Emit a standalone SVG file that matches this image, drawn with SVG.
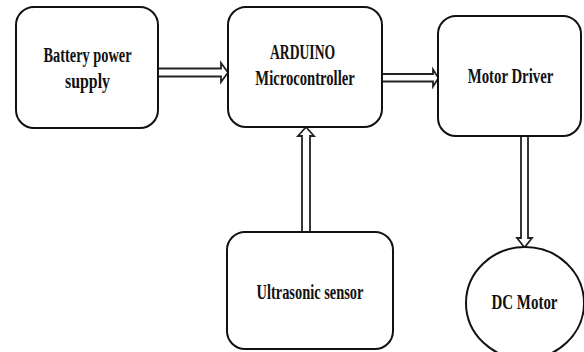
<svg xmlns="http://www.w3.org/2000/svg" width="584" height="352" viewBox="0 0 584 352">
<style>
.box{fill:#fff;stroke:#111;stroke-width:2}
.arr{fill:#fff;stroke:#222;stroke-width:1.8;stroke-linejoin:miter}
.t{font-family:"Liberation Serif","Times New Roman",serif;font-weight:bold;font-size:22px;fill:#111;text-anchor:middle}
</style>
<rect width="584" height="352" fill="#fff"/>
<g id="connectors">
<path class="arr" d="M158,68.5 H221 V63 L228,72.5 L221,82 V76.5 H158"/>
<path class="arr" d="M382,74 H433 V69.5 L438.5,78 L433,86.5 V81.5 H382"/>
<path class="arr" d="M302,232 V136 H298 L306,127 L314,136 H310 V232"/>
<path class="arr" d="M521,136 V238 H517 L524.5,247.5 L532,238 H528 V136"/>
</g>
<g id="battery">
<rect class="box" x="16" y="7" width="142" height="121" rx="18"/>
<text class="t" transform="translate(87.5,61.5) scale(0.652,1)">Battery power</text>
<text class="t" transform="translate(87.5,88) scale(0.72,1)">supply</text>
</g>
<g id="arduino">
<rect class="box" x="228" y="7" width="154" height="120" rx="18"/>
<text class="t" transform="translate(302.5,59) scale(0.62,1)">ARDUINO</text>
<text class="t" transform="translate(305,85) scale(0.665,1)">Microcontroller</text>
</g>
<g id="motordriver">
<rect class="box" x="438" y="16" width="143" height="120" rx="18"/>
<text class="t" transform="translate(510.5,83) scale(0.673,1)">Motor Driver</text>
</g>
<g id="ultrasonic">
<rect class="box" x="227" y="232" width="166" height="117" rx="18"/>
<text class="t" transform="translate(310,299) scale(0.656,1)">Ultrasonic sensor</text>
</g>
<g id="dcmotor">
<ellipse class="box" cx="525" cy="303" rx="59" ry="56"/>
<text class="t" transform="translate(524.5,308.5) scale(0.68,1)">DC Motor</text>
</g>
</svg>
